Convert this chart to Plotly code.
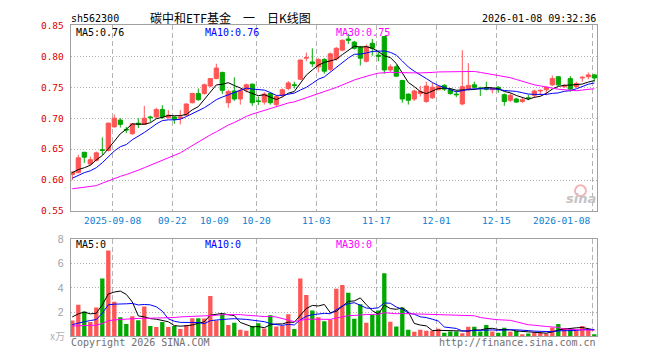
import plotly.graph_objects as go
import pandas as pd

# ---------------- data ----------------
holidays = ["2025-10-01", "2025-10-02", "2025-10-03", "2025-10-06", "2025-10-07",
            "2025-10-08", "2026-01-01", "2026-01-02"]
dates = [d.strftime("%Y-%m-%d") for d in pd.bdate_range("2025-08-28", "2026-01-08")
         if d.strftime("%Y-%m-%d") not in holidays]

open_ = [0.609, 0.612, 0.645, 0.626, 0.632, 0.649, 0.648, 0.686, 0.697, 0.682,
         0.675, 0.692, 0.690, 0.702, 0.702, 0.714, 0.701, 0.702, 0.700, 0.705,
         0.725, 0.740, 0.740, 0.752, 0.764, 0.774, 0.725, 0.744, 0.731, 0.746,
         0.755, 0.728, 0.726, 0.740, 0.722, 0.737, 0.748, 0.754, 0.763, 0.797,
         0.791, 0.783, 0.795, 0.779, 0.796, 0.810, 0.828, 0.823, 0.815, 0.792,
         0.821, 0.802, 0.832, 0.778, 0.783, 0.761, 0.739, 0.731, 0.740, 0.727,
         0.733, 0.746, 0.753, 0.746, 0.739, 0.723, 0.747, 0.754, 0.749, 0.748,
         0.746, 0.750, 0.738, 0.729, 0.731, 0.727, 0.733, 0.737, 0.744, 0.746,
         0.754, 0.767, 0.751, 0.764, 0.751, 0.765, 0.767, 0.770]
high = [0.614, 0.641, 0.645, 0.638, 0.646, 0.669, 0.693, 0.706, 0.700, 0.686,
        0.692, 0.700, 0.720, 0.704, 0.717, 0.721, 0.713, 0.703, 0.713, 0.724,
        0.741, 0.748, 0.756, 0.765, 0.788, 0.775, 0.746, 0.766, 0.748, 0.756,
        0.756, 0.735, 0.742, 0.742, 0.737, 0.748, 0.760, 0.759, 0.795, 0.806,
        0.813, 0.797, 0.797, 0.806, 0.815, 0.827, 0.836, 0.825, 0.817, 0.819,
        0.828, 0.809, 0.833, 0.787, 0.786, 0.762, 0.740, 0.746, 0.752, 0.759,
        0.757, 0.753, 0.755, 0.748, 0.745, 0.810, 0.789, 0.759, 0.751, 0.759,
        0.749, 0.752, 0.740, 0.740, 0.733, 0.733, 0.738, 0.746, 0.746, 0.751,
        0.769, 0.768, 0.755, 0.768, 0.759, 0.768, 0.774, 0.771]
low = [0.600, 0.611, 0.628, 0.624, 0.630, 0.641, 0.646, 0.685, 0.685, 0.676,
       0.673, 0.684, 0.689, 0.694, 0.700, 0.699, 0.699, 0.691, 0.690, 0.704,
       0.724, 0.728, 0.738, 0.750, 0.763, 0.739, 0.717, 0.728, 0.722, 0.742,
       0.720, 0.721, 0.722, 0.722, 0.718, 0.734, 0.745, 0.748, 0.762, 0.792,
       0.783, 0.774, 0.772, 0.776, 0.793, 0.808, 0.820, 0.811, 0.785, 0.790,
       0.801, 0.792, 0.772, 0.775, 0.767, 0.725, 0.722, 0.728, 0.735, 0.725,
       0.731, 0.745, 0.744, 0.738, 0.734, 0.721, 0.745, 0.748, 0.736, 0.745,
       0.740, 0.741, 0.720, 0.726, 0.725, 0.725, 0.729, 0.733, 0.737, 0.737,
       0.752, 0.752, 0.749, 0.743, 0.749, 0.759, 0.763, 0.759]
close = [0.613, 0.636, 0.637, 0.633, 0.644, 0.648, 0.692, 0.700, 0.690, 0.681,
         0.691, 0.690, 0.700, 0.701, 0.714, 0.702, 0.705, 0.698, 0.702, 0.723,
         0.740, 0.730, 0.754, 0.764, 0.781, 0.745, 0.743, 0.731, 0.745, 0.754,
         0.725, 0.727, 0.739, 0.725, 0.735, 0.746, 0.757, 0.753, 0.794, 0.798,
         0.788, 0.795, 0.776, 0.804, 0.813, 0.826, 0.826, 0.813, 0.797, 0.816,
         0.813, 0.800, 0.778, 0.783, 0.768, 0.731, 0.729, 0.744, 0.743, 0.752,
         0.750, 0.751, 0.747, 0.740, 0.738, 0.751, 0.753, 0.750, 0.748, 0.747,
         0.748, 0.746, 0.727, 0.737, 0.726, 0.730, 0.732, 0.744, 0.745, 0.750,
         0.764, 0.754, 0.753, 0.747, 0.756, 0.766, 0.770, 0.765]
volume = [1.31, 2.61, 2.05, 1.17, 2.37, 4.77, 7.09, 2.85, 1.57, 1.01,
          1.65, 1.33, 2.45, 0.85, 0.77, 1.17, 0.77, 0.85, 0.61, 0.93,
          1.49, 1.49, 1.47, 3.33, 1.31, 1.84, 0.93, 1.12, 0.53, 0.45,
          0.85, 1.07, 0.64, 1.73, 0.80, 0.85, 1.81, 0.61, 4.77, 3.41,
          2.13, 1.57, 1.25, 1.39, 3.92, 4.24, 3.60, 1.44, 2.64, 1.12,
          1.79, 2.13, 5.20, 1.20, 0.80, 2.38, 0.54, 0.38, 0.54, 0.46,
          0.46, 0.62, 0.30, 0.40, 0.40, 0.25, 0.78, 0.78, 0.40, 0.93,
          0.40, 0.30, 0.70, 0.38, 0.43, 0.16, 0.24, 0.32, 0.32, 0.24,
          0.72, 1.01, 0.69, 0.64, 0.43, 0.85, 0.59, 0.13]

# moving-average values at the start of the window (history before the chart)
ma5_head = [0.612, 0.617, 0.620, 0.624]
ma10_head = [0.603, 0.608, 0.612, 0.615, 0.620, 0.628, 0.638, 0.647, 0.654]
ma30_head = [0.586, 0.587, 0.588, 0.589, 0.591, 0.595, 0.599, 0.602, 0.606, 0.609,
             0.612, 0.616, 0.620, 0.624, 0.627, 0.631, 0.635, 0.639, 0.644, 0.650,
             0.656, 0.662, 0.668, 0.673, 0.678, 0.684, 0.689, 0.693, 0.698]
vma5_head = [1.6, 1.85, 2.0, 1.85]
vma10_head = [0.96, 1.1, 1.2, 1.3, 1.38, 1.9, 2.6, 2.65, 2.65]
vma30_head = [0.85, 0.87, 0.88, 0.90, 0.92, 1.05, 1.28, 1.35, 1.40, 1.42,
              1.45, 1.47, 1.50, 1.51, 1.51, 1.52, 1.52, 1.55, 1.60, 1.62,
              1.63, 1.63, 1.64, 1.70, 1.73, 1.78, 1.80, 1.80, 1.79]

label_dates = ["2025-09-08", "2025-09-22", "2025-10-09", "2025-10-20", "2025-11-03",
               "2025-11-17", "2025-12-01", "2025-12-15", "2026-01-08"]
label_text = ["2025-09-08", "09-22", "10-09", "10-20", "11-03",
              "11-17", "12-01", "12-15", "2026-01-08"]
grid_dates = ["2025-09-08", "2025-09-22", "2025-10-20", "2025-11-03",
              "2025-11-17", "2025-12-01", "2025-12-15", "2026-01-08"]
price_ticks = [0.55, 0.60, 0.65, 0.70, 0.75, 0.80, 0.85]
vol_ticks = [2, 4, 6, 8]

# ---------------- styling ----------------
W, H = 660, 360
RED = "#ff5555"
GREEN = "#00a800"
MONO = "DejaVu Sans Mono"
GRID = "#b4b4b4"
FRAME = "#a0a0a0"


def px_x(p):
    return p / W


def px_y(p):
    return 1 - p / H


def moving(vals, n, head):
    s = pd.Series(vals).rolling(n).mean().tolist()
    s[:n - 1] = head
    return s


xs = list(range(len(dates)))
ma5 = moving(close, 5, ma5_head)
ma10 = moving(close, 10, ma10_head)
ma30 = moving(close, 30, ma30_head)
vma5 = moving(volume, 5, vma5_head)
vma10 = moving(volume, 10, vma10_head)
vma30 = moving(volume, 30, vma30_head)
vcolors = [RED if c >= o else GREEN for o, c in zip(open_, close)]

fig = go.Figure()
fig.add_trace(go.Candlestick(
    x=xs, open=open_, high=high, low=low, close=close,
    increasing=dict(line=dict(color=RED, width=1), fillcolor=RED),
    decreasing=dict(line=dict(color=GREEN, width=1), fillcolor=GREEN),
    whiskerwidth=0, xaxis="x", yaxis="y", hoverinfo="skip"))
for ys, col in [(ma5, "black"), (ma10, "#0000ff"), (ma30, "#ff00ff")]:
    fig.add_trace(go.Scatter(x=xs, y=ys, mode="lines", line=dict(color=col, width=1),
                             xaxis="x", yaxis="y", hoverinfo="skip"))
fig.add_trace(go.Bar(x=xs, y=volume, marker=dict(color=vcolors, line=dict(width=0)),
                     width=0.72, xaxis="x2", yaxis="y2", hoverinfo="skip"))
for ys, col in [(vma5, "black"), (vma10, "#0000ff"), (vma30, "#ff00ff")]:
    fig.add_trace(go.Scatter(x=xs, y=ys, mode="lines", line=dict(color=col, width=1),
                             xaxis="x2", yaxis="y2", hoverinfo="skip"))

grid_pos = [dates.index(d) - 1 / 3 for d in grid_dates]
xdom = [px_x(70.7), px_x(597)]
xr = [-0.267, 87.45]
xcommon = dict(domain=xdom, range=xr, tickvals=grid_pos, showticklabels=False,
               showgrid=True, gridcolor=GRID, griddash="5px,3px", gridwidth=1,
               showline=True, mirror=True, linecolor=FRAME, linewidth=1,
               zeroline=False, ticks="", fixedrange=True)

fig.update_layout(
    width=W, height=H, margin=dict(l=0, r=0, t=0, b=0),
    paper_bgcolor="white", plot_bgcolor="white", showlegend=False,
    boxmode="overlay", boxgap=0.3, boxgroupgap=0,
    xaxis=dict(anchor="y", rangeslider=dict(visible=False), **xcommon),
    xaxis2=dict(anchor="y2", matches="x", **xcommon),
    yaxis=dict(domain=[px_y(211.5), px_y(20)], range=[0.55, 0.85], anchor="x",
               tickvals=price_ticks, ticktext=[f"{v:.2f}" for v in price_ticks],
               tickfont=dict(family=MONO, size=9.5, color="#dd0000"),
               ticklabelstandoff=4, ticks="",
               showgrid=True, gridcolor=GRID, griddash="1px,2px",
               showline=True, mirror=True, linecolor=FRAME, zeroline=False,
               fixedrange=True),
    yaxis2=dict(domain=[px_y(340.7), px_y(240.7)], range=[0, 8], anchor="x2",
                tickvals=vol_ticks, ticktext=[str(v) for v in vol_ticks],
                tickfont=dict(family="Liberation Sans", size=10.5, color="#a0a0a0"),
                ticklabelstandoff=4, ticks="",
                showgrid=True, gridcolor=GRID, griddash="1px,2px",
                showline=True, mirror=True, linecolor=FRAME, zeroline=False,
                fixedrange=True),
)

ann = []


def text(x, y, s, color="black", size=10, family=MONO, anchor="left", **kw):
    ann.append(dict(x=px_x(x), y=px_y(y), xref="paper", yref="paper", text=s,
                    showarrow=False, xanchor=anchor, yanchor="middle", borderpad=0,
                    font=dict(family=family, size=size, color=color), **kw))


text(70, 12.5, "sh562300")
text(230, 12, "碳中和ETF基金　一　日K线图", size=12, family="Noto Sans CJK SC",
     anchor="center")
text(597, 12.5, "2026-01-08 09:32:36", anchor="right")
text(75, 27, f"MA5:{ma5[-1]:.2f}")
text(204, 27, f"MA10:{ma10[-1]:.2f}", color="#0000ff")
text(335, 27, f"MA30:{ma30[-1]:.2f}", color="#ff00ff")
text(75, 246, "MA5:0")
text(204, 246, "MA10:0", color="#0000ff")
text(335, 246, "MA30:0", color="#ff00ff")
text(69.5, 347, "Copyright 2026 SINA.COM", color="#707070")
text(597, 347, "http://finance.sina.com.cn", color="#707070", anchor="right")
text(57, 340, "x万", color="#b0b0b0", size=10, family="Noto Sans CJK SC", anchor="center")

for d, t in zip(label_dates, label_text):
    i = dates.index(d) - 1 / 3
    last = d == label_dates[-1]
    ann.append(dict(x=i, y=px_y(221), xref="x", yref="paper", text=t, showarrow=False,
                    xanchor="right" if last else "center", yanchor="middle",
                    font=dict(family=MONO, size=9.5, color="#0a7ed0")))

# sina watermark
ann.append(dict(x=px_x(581), y=px_y(199), xref="paper", yref="paper", text="<b><i>sina</i></b>",
                showarrow=False, xanchor="center", yanchor="middle",
                font=dict(family="DejaVu Sans", size=13, color="#c4c4c4")))
fig.add_shape(type="circle", xref="paper", yref="paper",
              x0=px_x(575), x1=px_x(586), y0=px_y(196), y1=px_y(185),
              line=dict(color="#f3b4b4", width=2))

fig.update_layout(annotations=ann)
fig.write_html("out.html", config={"displayModeBar": False})
